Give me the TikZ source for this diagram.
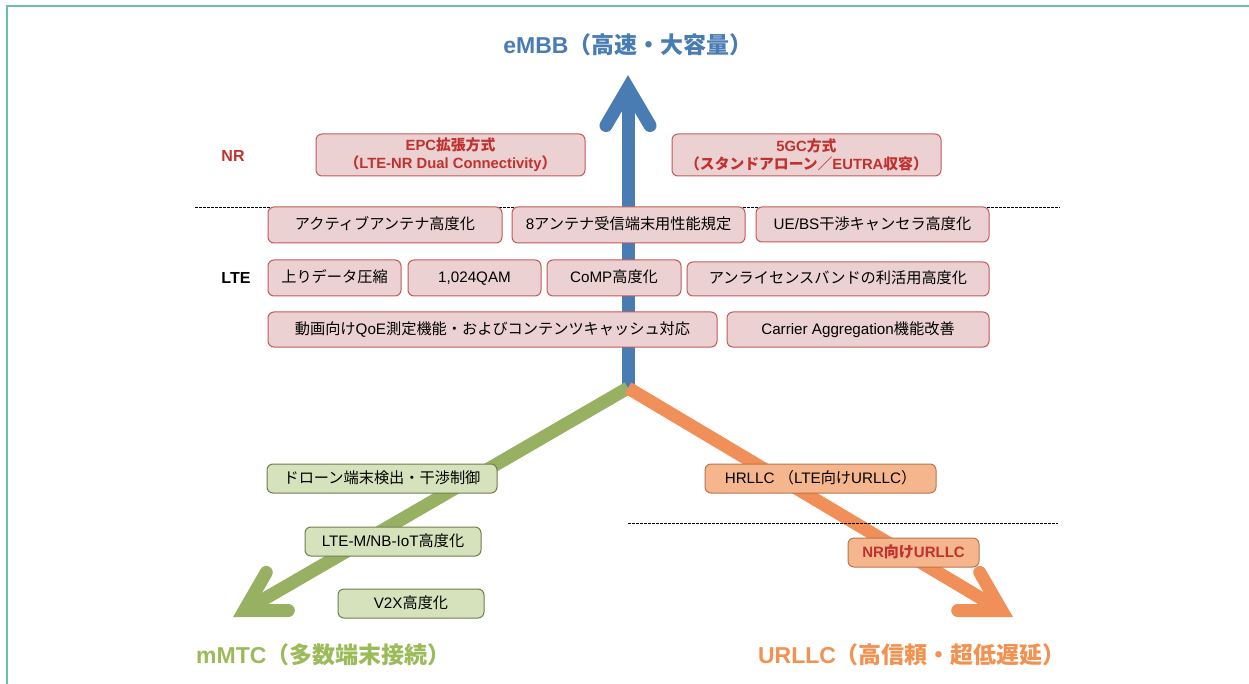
\documentclass[tikz,border=0pt]{standalone}
\usepackage{fontspec}
\setmainfont{Liberation Sans}
\newfontfamily\jp{Noto Sans CJK JP}
\usetikzlibrary{calc}
\definecolor{embb}{HTML}{4A7CB4}
\definecolor{mmtcA}{HTML}{97B061}
\definecolor{urllcA}{HTML}{F08F58}
\definecolor{mmtcT}{HTML}{9BBB59}
\definecolor{urllcT}{HTML}{F29150}
\definecolor{rfill}{HTML}{EBD1D1}
\definecolor{rdraw}{HTML}{C45A58}
\definecolor{gfill}{HTML}{D5E2BC}
\definecolor{gdraw}{HTML}{6F7D4E}
\definecolor{ofill}{HTML}{F5B68E}
\definecolor{odraw}{HTML}{B8744A}
\definecolor{redtxt}{HTML}{C0312F}
\definecolor{framec}{HTML}{6CBFA9}
\tikzset{
  box/.style={rounded corners=6pt, line width=1pt, inner sep=0pt, align=center,
    font=\fontsize{15.2}{17}\selectfont},
  oneline/.style={text height=0.98em, text depth=0.02em},
  rbox/.style={box, oneline, fill=rfill, draw=rdraw},
  nbox/.style={box, fill=rfill, draw=rdraw, text=redtxt,
    font=\bfseries\fontsize{14.8}{18}\selectfont},
  gbox/.style={box, oneline, fill=gfill, draw=gdraw},
  obox/.style={box, oneline, fill=ofill, draw=odraw},
  shaft/.style={line width=13pt, line cap=butt},
  head/.style={line width=13pt, line cap=round, line join=miter},
  title/.style={font=\bfseries\fontsize{23}{28}\selectfont, inner sep=0pt},
  rowlabel/.style={font=\bfseries\fontsize{16}{19}\selectfont, inner sep=0pt},
  sep/.style={line width=0.7pt, dash pattern=on 2.5pt off 1.5pt}
}
\begin{document}
\begin{tikzpicture}[x=1pt, y=-1pt]
\useasboundingbox (0,0) rectangle (1249,684);
\fill[white] (0,0) rectangle (1249,684);
% frame
\draw[framec, line width=1.5pt] (7,684) -- (7,6) -- (1249,6);

% arrows
\coordinate (o) at (628,388);
\coordinate (bv) at (628,88);
\coordinate (gv) at (244.3,610.5);
\coordinate (ov) at (1001.7,610.5);
\draw[shaft, embb] (o) -- (bv);
\draw[head, embb] ($(bv)+(-22,37.5)$) -- (bv) -- ($(bv)+(22,37.5)$);
\draw[shaft, mmtcA] (o) -- (gv);
\draw[head, mmtcA] ($(gv)+(44,0)$) -- (gv) -- ($(gv)+(22,-38.1)$);
\draw[shaft, urllcA] (o) -- (ov);
\draw[head, urllcA] ($(ov)+(-44,0)$) -- (ov) -- ($(ov)+(-22,-38.1)$);

% separators
\coordinate (s1a) at (195,207);
\coordinate (s1b) at (1060,207);
\coordinate (s2a) at (628,523);
\coordinate (s2b) at (1058,523);
\draw[sep] (s1a) -- (s1b);
\draw[sep] (s2a) -- (s2b);

% titles
\node[title, text=embb] (embbT) at (628,45) {eMBB{\jp （高速・大容量）}};
\node[title, text=mmtcT, anchor=west] (mmtcTl) at (196,655) {mMTC{\jp （多数端末接続）}};
\node[title, text=urllcT] (urllcTl) at (912,655) {URLLC{\jp （高信頼・超低遅延）}};

% row labels
\node[rowlabel, text=redtxt] (nrL) at (233,156) {NR};
\node[rowlabel] (lteL) at (236,278) {LTE};

% NR boxes
\node[nbox, minimum width=269, minimum height=42] (n1) at (450.5,155) {EPC{\jp 拡張方式}\\{\jp （}LTE-NR Dual Connectivity{\jp ）}};
\node[nbox, minimum width=269, minimum height=42] (n2) at (806.5,155) {5GC{\jp 方式}\\{\jp （スタンドアローン／}EUTRA{\jp 収容）}};

% LTE row 1
\node[rbox, minimum width=234, minimum height=36] (a1) at (385,225) {\jp アクティブアンテナ高度化};
\node[rbox, minimum width=233, minimum height=36] (a2) at (628.5,225) {8{\jp アンテナ受信端末用性能規定}};
\node[rbox, minimum width=233, minimum height=35] (a3) at (872.5,224.5) {UE/BS{\jp 干渉キャンセラ高度化}};
% LTE row 2
\node[rbox, minimum width=133, minimum height=36] (b1) at (334.5,278) {\jp 上りデータ圧縮};
\node[rbox, minimum width=133, minimum height=36] (b2) at (474.5,278) {1,024QAM};
\node[rbox, minimum width=134, minimum height=36] (b3) at (614,278) {CoMP{\jp 高度化}};
\node[rbox, minimum width=302, minimum height=34] (b4) at (838,279) {\jp アンライセンスバンドの利活用高度化};
% LTE row 3
\node[rbox, minimum width=449, minimum height=35] (c1) at (492.5,329.5) {{\jp 動画向け}QoE{\jp 測定機能・およびコンテンツキャッシュ対応}};
\node[rbox, minimum width=262, minimum height=35] (c2) at (858,329.5) {Carrier Aggregation{\jp 機能改善}};

% mMTC boxes
\node[gbox, minimum width=230, minimum height=29] (g1) at (382,478.5) {\jp ドローン端末検出・干渉制御};
\node[gbox, minimum width=176, minimum height=29] (g2) at (393,541.5) {LTE-M/NB-IoT{\jp 高度化}};
\node[gbox, minimum width=146, minimum height=29] (g3) at (411,603.5) {V2X{\jp 高度化}};

% URLLC boxes
\node[obox, minimum width=231, minimum height=29] (o1) at (820.5,478.5) {HRLLC {\jp （}LTE{\jp 向け}URLLC{\jp ）}};
\node[obox, minimum width=131, minimum height=29, text=redtxt, font=\bfseries\fontsize{15}{17}\selectfont] (o2) at (913.5,552.5) {NR{\jp 向け}URLLC};
\end{tikzpicture}
\end{document}
